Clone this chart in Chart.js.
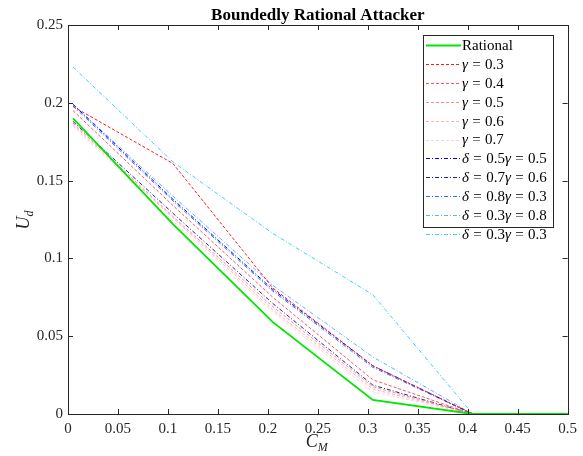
<!DOCTYPE html>
<html>
<head>
<meta charset="utf-8">
<script src="https://cdn.jsdelivr.net/npm/chart.js@4.4.0/dist/chart.umd.min.js"></script>
<style>
  html, body { margin: 0; padding: 0; background: #fff; }
  #wrap { width: 583px; height: 456px; }
</style>
</head>
<body>
<div id="wrap"><canvas id="chart" width="583" height="456"></canvas></div>
<script>
// C_M sample points
const costs = [0.005, 0.105, 0.205, 0.305, 0.405, 0.5];

const rational   = [0.190, 0.122, 0.059, 0.009, 0, 0];
const gamma03    = [0.1976, 0.161, 0.081, 0.031, 0, 0];
const gamma04    = [0.195, 0.134, 0.075, 0.022, 0, 0];
const gamma05    = [0.187, 0.127, 0.069, 0.0175, 0, 0];
const gamma06    = [0.186, 0.126, 0.067, 0.016, 0, 0];
const gamma07    = [0.185, 0.124, 0.0656, 0.0143, 0, 0];
const d05g05     = [0.199, 0.138, 0.080, 0.031, 0, 0];
const d07g06     = [0.188, 0.129, 0.071, 0.0186, 0, 0];
const d08g03     = [0.198, 0.137, 0.079, 0.030, 0, 0];
const d03g08     = [0.199, 0.140, 0.0827, 0.0367, 0, 0];
const d03g03     = [0.223, 0.162, 0.116, 0.0767, 0, 0];

const seriesNames = ["Rational", "γ = 0.3", "γ = 0.4", "γ = 0.5", "γ = 0.6", "γ = 0.7",
  "δ = 0.5γ = 0.5", "δ = 0.7γ = 0.6", "δ = 0.8γ = 0.3", "δ = 0.3γ = 0.8", "δ = 0.3γ = 0.3"];
const seriesValues = [rational, gamma03, gamma04, gamma05, gamma06, gamma07,
  d05g05, d07g06, d08g03, d03g08, d03g03];
const seriesColors = ["#00e600", "#ff1a1a", "#ff5555", "#ff8a8a", "#ffb0b0", "#ffd0da",
  "#0000ff", "#2020a8", "#2f6fff", "#60b0ff", "#40cfff"];
const dashed = [3, 2];
const dashDot = [4, 2, 1, 2];
const seriesDash = [[], dashed, dashed, dashed, dashed, dashed,
  dashDot, dashDot, dashDot, dashDot, dashDot];

const xTicks = [0, 0.05, 0.1, 0.15, 0.2, 0.25, 0.3, 0.35, 0.4, 0.45, 0.5];
const yTicks = [0, 0.05, 0.1, 0.15, 0.2, 0.25];

const SERIF = "'Liberation Serif', 'DejaVu Serif', serif";

const datasets = seriesNames.map((name, i) => ({
  label: name,
  data: costs.map((c, j) => ({ x: c, y: seriesValues[i][j] })),
  borderColor: seriesColors[i],
  borderWidth: i === 0 ? 1.8 : 1,
  borderDash: seriesDash[i],
  pointRadius: 0,
  fill: false,
  tension: 0,
  order: i,
}));

function drawRuns(ctx, x, y, text, size) {
  // greek letters italic, rest upright, a bit of room round "="
  let cx = x;
  for (const ch of text) {
    const greek = ch === "γ" || ch === "δ";
    ctx.font = (greek ? "italic " : "") + size + "px " + SERIF;
    ctx.fillText(ch, cx, y);
    cx += ctx.measureText(ch).width + (ch === " " ? 0.6 : 0);
  }
}

const framePlugin = {
  id: "frame",
  afterDraw(chart) {
    const ctx = chart.ctx;
    const a = chart.chartArea;
    const xs = chart.scales.x, ys = chart.scales.y;
    ctx.save();
    ctx.strokeStyle = "#262626";
    ctx.lineWidth = 1;
    ctx.setLineDash([]);
    ctx.strokeRect(Math.round(a.left) + 0.5, Math.round(a.top) + 0.5,
      Math.round(a.right - a.left), Math.round(a.bottom - a.top));
    ctx.beginPath();
    xTicks.forEach(v => {
      const px = Math.round(xs.getPixelForValue(v)) + 0.5;
      ctx.moveTo(px, a.bottom); ctx.lineTo(px, a.bottom - 5);
      ctx.moveTo(px, a.top); ctx.lineTo(px, a.top + 5);
    });
    yTicks.forEach(v => {
      const py = Math.round(ys.getPixelForValue(v)) + 0.5;
      ctx.moveTo(a.left, py); ctx.lineTo(a.left + 5, py);
      ctx.moveTo(a.right, py); ctx.lineTo(a.right - 5, py);
    });
    ctx.stroke();

    // title
    ctx.fillStyle = "#000";
    ctx.font = "bold 17px " + SERIF;
    ctx.textAlign = "center";
    ctx.textBaseline = "alphabetic";
    ctx.fillText("Boundedly Rational Attacker", (a.left + a.right) / 2, 20);

    // x axis title C_M
    ctx.fillStyle = "#262626";
    ctx.textAlign = "left";
    ctx.font = "italic 18px " + SERIF;
    const cx = (a.left + a.right) / 2 - 12;
    ctx.fillText("C", cx, 447);
    const cw = ctx.measureText("C").width;
    ctx.font = "italic 12px " + SERIF;
    ctx.fillText("M", cx + cw, 451);

    // y axis title U_d
    ctx.save();
    ctx.translate(29, (a.top + a.bottom) / 2 + 10);
    ctx.rotate(-Math.PI / 2);
    ctx.font = "italic 18px " + SERIF;
    ctx.fillText("U", 0, 0);
    const uw = ctx.measureText("U").width;
    ctx.font = "italic 12px " + SERIF;
    ctx.fillText("d", uw, 4);
    ctx.restore();

    // legend box
    const lx = 423, ly = 35, lw = 130, lh = 192;
    ctx.fillStyle = "#fff";
    ctx.fillRect(lx, ly, lw, lh);
    ctx.strokeStyle = "#262626";
    ctx.strokeRect(lx + 0.5, ly + 0.5, lw, lh);
    chart.data.datasets.forEach((d, i) => {
      const y = ly + 10 + i * 18.9;
      ctx.beginPath();
      ctx.strokeStyle = d.borderColor;
      ctx.lineWidth = d.borderWidth;
      ctx.setLineDash(d.borderDash);
      ctx.moveTo(lx + 3, Math.round(y) + 0.5);
      ctx.lineTo(lx + 38, Math.round(y) + 0.5);
      ctx.stroke();
      ctx.setLineDash([]);
      ctx.fillStyle = "#000";
      ctx.textBaseline = "middle";
      drawRuns(ctx, lx + 39, y + 1, d.label, 15);
    });
    ctx.restore();
  }
};

new Chart(document.getElementById("chart"), {
  type: "line",
  data: { datasets: datasets },
  options: {
    responsive: false,
    animation: false,
    layout: { padding: { top: 25, right: 15, left: 0, bottom: 0 } },
    plugins: { legend: { display: false }, tooltip: { enabled: false }, title: { display: false } },
    scales: {
      x: {
        type: "linear",
        min: 0, max: 0.5,
        afterBuildTicks(scale) { scale.ticks = xTicks.map(v => ({ value: v })); },
        afterFit(scale) { scale.height = 42; },
        grid: { display: false, drawTicks: false },
        border: { display: false },
        ticks: {
          padding: 6,
          color: "#262626",
          font: { family: SERIF, size: 15 },
          maxRotation: 0,
          autoSkip: false,
          callback: v => String(parseFloat(v.toFixed(2))),
        },
      },
      y: {
        type: "linear",
        min: 0, max: 0.25,
        afterBuildTicks(scale) { scale.ticks = yTicks.map(v => ({ value: v })); },
        afterFit(scale) { scale.width = 68; },
        grid: { display: false, drawTicks: false },
        border: { display: false },
        ticks: {
          padding: 5,
          color: "#262626",
          font: { family: SERIF, size: 15 },
          callback: v => String(parseFloat(v.toFixed(2))),
        },
      },
    },
  },
  plugins: [framePlugin],
});
</script>
</body>
</html>
